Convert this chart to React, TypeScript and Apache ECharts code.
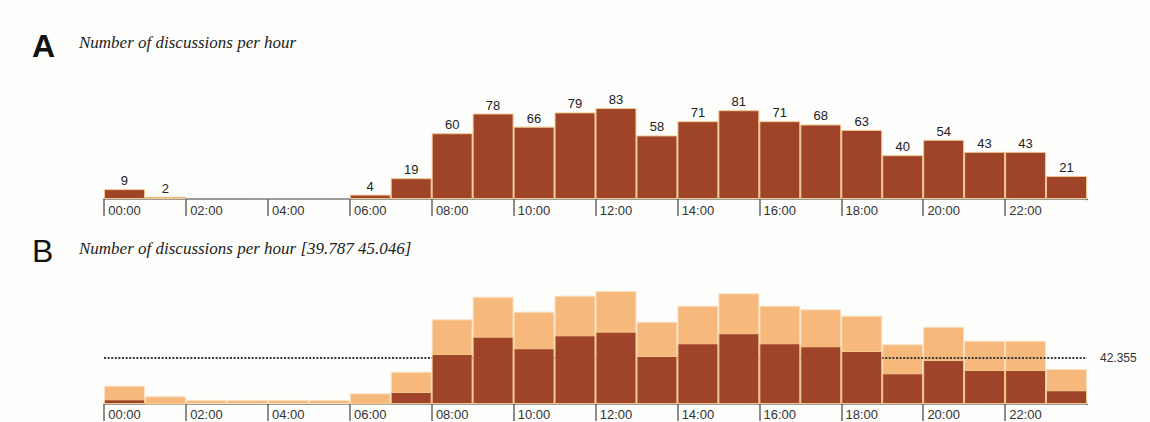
import React, { useEffect, useRef } from "react";
import * as echarts from "echarts";

const hours = [
  "00:00", "01:00", "02:00", "03:00", "04:00", "05:00", "06:00", "07:00",
  "08:00", "09:00", "10:00", "11:00", "12:00", "13:00", "14:00", "15:00",
  "16:00", "17:00", "18:00", "19:00", "20:00", "21:00", "22:00", "23:00",
];

// Panel A: number of discussions per hour
const countsA = [9, 2, 0, 0, 0, 0, 4, 19, 60, 78, 66, 79, 83, 58, 71, 81, 71, 68, 63, 40, 54, 43, 43, 21];

// Panel B: lower (dark) and upper (light) values, same scale as A
const lowerB = [4.3, 0.3, 0, 0, 0, 0, 0.6, 11.0, 46.0, 61.9, 51.2, 63.1, 66.5, 44.1, 55.8, 65.0, 55.8, 53.0, 48.7, 28.2, 40.4, 31.3, 31.3, 12.6];
const upperB = [16.8, 7.1, 3.7, 3.7, 3.7, 3.7, 9.8, 29.7, 77.8, 98.6, 84.8, 99.5, 103.9, 75.6, 90.3, 101.7, 90.3, 87.0, 81.2, 54.9, 71.0, 58.2, 58.2, 32.2];
const meanB = 42.355;

const titleA = "Number of discussions per hour";
const titleB = "Number of discussions per hour [39.787 45.046]";

const BG = "#fdfdfb";
const DARK = "#9f4429";
const LIGHT = "#f6b97b";
const SANS = "Liberation Sans, Arial, sans-serif";
const SERIF = "Liberation Serif, Times New Roman, serif";

export default function App() {
  const ref = useRef<HTMLDivElement>(null);
  useEffect(() => {
    if (!ref.current) return;
    const chart = echarts.init(ref.current, null, { renderer: "svg" });
    const xAxisCommon = {
      type: "category" as const,
      data: hours,
      boundaryGap: true,
      axisLine: { show: true, lineStyle: { color: "#7a7a7a", width: 1.5 } },
      axisTick: { show: true, interval: 1, length: 17, lineStyle: { color: "#666", width: 1.5 } },
      axisLabel: { interval: 1, fontFamily: SANS, fontSize: 13, color: "#333" },
      splitLine: { show: false },
    };
    chart.setOption({
      animation: false,
      backgroundColor: BG,
      grid: [
        { left: 104, width: 983, top: 89.4, height: 109.6 },
        { left: 104, width: 983, top: 273.4, height: 130.6 },
      ],
      xAxis: [
        { ...xAxisCommon, gridIndex: 0, axisLabel: { ...xAxisCommon.axisLabel, margin: 5 } },
        { ...xAxisCommon, gridIndex: 1, axisLabel: { ...xAxisCommon.axisLabel, margin: 4 } },
      ],
      yAxis: [
        { type: "value", gridIndex: 0, min: 0, max: 100, show: false },
        { type: "value", gridIndex: 1, min: 0, max: 120, show: false },
      ],
      graphic: [
        { type: "text", left: 32, top: 30, style: { text: "A", font: `bold 32px ${SANS}`, fill: "#111" } },
        { type: "text", left: 79, top: 34, style: { text: titleA, font: `italic 17px ${SERIF}`, fill: "#222" } },
        { type: "text", left: 32, top: 235, style: { text: "B", font: `normal 32px ${SANS}`, fill: "#111" } },
        { type: "text", left: 79, top: 240, style: { text: titleB, font: `italic 17px ${SERIF}`, fill: "#222" } },
        // mask the closing boundary tick that ECharts adds at the axis end
        { type: "rect", z: 100, shape: { x: 1085.5, y: 200.2, width: 5, height: 18 }, style: { fill: BG } },
        { type: "rect", z: 100, shape: { x: 1085.5, y: 405, width: 5, height: 18 }, style: { fill: BG } },
      ],
      series: [
        {
          type: "bar",
          xAxisIndex: 0,
          yAxisIndex: 0,
          data: countsA.map((v) => ({ value: v, itemStyle: v === 0 ? { borderWidth: 0 } : undefined })),
          barWidth: "100%",
          barCategoryGap: 0,
          itemStyle: { color: DARK, borderColor: "#f3c98e", borderWidth: 1 },
          label: {
            show: true,
            position: "top",
            distance: 2,
            fontFamily: SANS,
            fontSize: 13,
            color: "#222",
            formatter: (p: any) => (p.value === 0 ? "" : String(p.value)),
          },
          silent: true,
        },
        {
          type: "bar",
          xAxisIndex: 1,
          yAxisIndex: 1,
          data: upperB,
          barWidth: "100%",
          barGap: "-100%",
          z: 2,
          itemStyle: { color: LIGHT, borderColor: "#fbe2c2", borderWidth: 1 },
          markLine: {
            silent: true,
            symbol: "none",
            lineStyle: { color: "#3a3a3a", type: [2, 1.6], width: 2 },
            label: {
              show: true,
              position: "end",
              distance: 13,
              fontFamily: SANS,
              fontSize: 12,
              color: "#333",
              formatter: () => String(meanB),
            },
            data: [{ yAxis: meanB }],
          },
          silent: true,
        },
        {
          type: "bar",
          xAxisIndex: 1,
          yAxisIndex: 1,
          data: lowerB.map((v) => ({ value: v, itemStyle: v === 0 ? { borderWidth: 0 } : undefined })),
          barWidth: "100%",
          barGap: "-100%",
          z: 10,
          itemStyle: { color: DARK, borderColor: "#f3c98e", borderWidth: 1 },
          silent: true,
        },
      ],
    });
    return () => chart.dispose();
  }, []);
  return (
    <div style={{ position: "fixed", left: 0, top: 0, width: 1150, height: 422, background: BG }}>
      <div ref={ref} style={{ width: 1150, height: 422 }} />
    </div>
  );
}
